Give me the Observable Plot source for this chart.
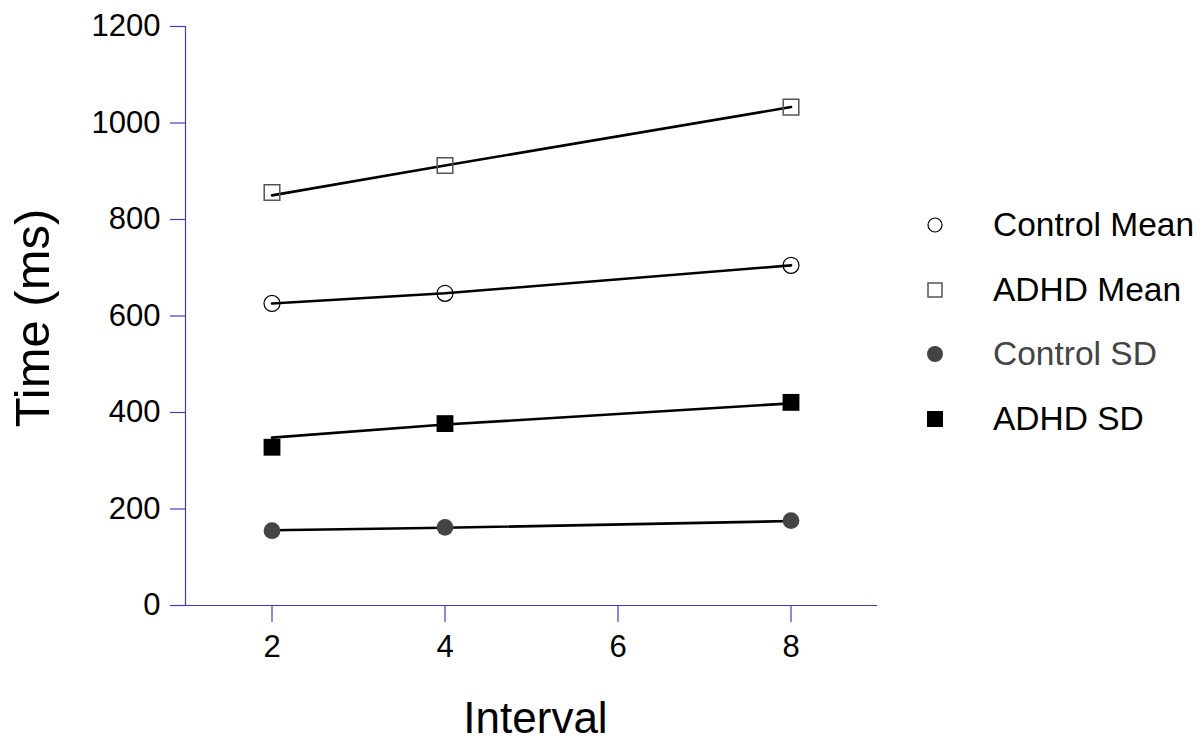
<!DOCTYPE html>
<html>
<head>
<meta charset="utf-8">
<script src="https://cdn.jsdelivr.net/npm/d3@7"></script>
<script src="https://cdn.jsdelivr.net/npm/@observablehq/plot@0.6"></script>
<style>
  body { margin: 0; background: white; font-family: "Liberation Sans", Arial, Helvetica, sans-serif; }
  #wrap { position: relative; width: 1200px; height: 740px; }
  #legend { position: absolute; left: 905px; top: 193px; }
  .row { display: flex; align-items: center; height: 64.5px; }
  .mk { width: 60px; height: 40px; display: flex; align-items: center; justify-content: center; }
  .lab { margin-left: 28px; font-size: 33.5px; color: #000; white-space: nowrap; }
</style>
</head>
<body>
<div id="wrap"><div id="chart"></div><div id="legend"></div></div>
<script>
const intervals = [2, 4, 8];
const seriesNames = ["Control Mean", "ADHD Mean", "Control SD", "ADHD SD"];
const controlMean = [626, 647, 705];
const adhdMean = [856, 912, 1033];
const controlSD = [155, 162, 176];
const adhdSD = [328, 377, 421];
// fitted trend lines as drawn in the figure
const controlMeanFit = [626, 647, 705];
const adhdMeanFit = [850, 912, 1033];
const controlSDFit = [156, 161, 175];
const adhdSDFit = [348, 375, 419];
const xTicks = [2, 4, 6, 8];
const yTicks = [0, 200, 400, 600, 800, 1000, 1200];

const blue = "#3c3cc8";
const styles = {
  "Control Mean": {symbol: "circle", fill: "none", stroke: "#000", r: 8, strokeWidth: 1.2, text: "#000"},
  "ADHD Mean": {symbol: "square", fill: "none", stroke: "#555", r: 8.8, strokeWidth: 1.5, text: "#000"},
  "Control SD": {symbol: "circle", fill: "#444", stroke: "none", r: 8.4, strokeWidth: 0, text: "#444"},
  "ADHD SD": {symbol: "square", fill: "#000", stroke: "none", r: 9.5, strokeWidth: 0, text: "#000"}
};
const valuesBySeries = [controlMean, adhdMean, controlSD, adhdSD];
const fitsBySeries = [controlMeanFit, adhdMeanFit, controlSDFit, adhdSDFit];

const rows = seriesNames.flatMap((s, i) => intervals.map((x, j) => ({
  series: s, interval: x, value: valuesBySeries[i][j], fit: fitsBySeries[i][j]
})));

const dotMarks = seriesNames.map(s => {
  const st = styles[s];
  return Plot.dot(rows.filter(d => d.series === s), {
    x: "interval", y: "value", symbol: () => st.symbol, r: st.r,
    fill: st.fill, stroke: st.stroke, strokeWidth: st.strokeWidth
  });
});

const chart = Plot.plot({
  width: 1200,
  height: 740,
  marginLeft: 185,
  marginRight: 323,
  marginTop: 26,
  marginBottom: 135,
  x: {domain: [1, 9]},
  y: {domain: [0, 1200]},
  symbol: {type: "identity"},
  style: {fontFamily: "'Liberation Sans', Arial, Helvetica, sans-serif", background: "white", color: "black"},
  marks: [
    Plot.ruleX([1], {stroke: blue, strokeWidth: 1.2}),
    Plot.ruleY([0], {stroke: blue, strokeWidth: 1.2}),
    Plot.axisY(yTicks, {tickSize: 15, tickPadding: 10, stroke: blue, fill: "black", fontSize: 31, label: null, strokeWidth: 1.2, tickFormat: d => String(d)}),
    Plot.axisX(xTicks, {tickSize: 17, tickPadding: 12, stroke: blue, fill: "black", fontSize: 31, label: null, strokeWidth: 1.2, tickFormat: d => String(d)}),
    Plot.text(["Time (ms)"], {text: d => d, frameAnchor: "left", textAnchor: "middle", rotate: -90, dx: -152, dy: 2, fontSize: 49, fill: "black"}),
    Plot.text(["Interval"], {text: d => d, frameAnchor: "bottom", textAnchor: "middle", dy: 127, dx: 4, fontSize: 44, fill: "black"}),
    Plot.line(rows, {x: "interval", y: "fit", z: "series", stroke: "black", strokeWidth: 2.6}),
    ...dotMarks
  ]
});
document.getElementById("chart").appendChild(chart);

// legend
const legend = document.getElementById("legend");
const legendSizes = {"Control Mean": 7, "ADHD Mean": 7, "Control SD": 8, "ADHD SD": 8};
seriesNames.forEach(s => {
  const st = styles[s];
  const row = document.createElement("div");
  row.className = "row";
  const mk = document.createElement("div");
  mk.className = "mk";
  const r = legendSizes[s];
  let shape;
  if (st.symbol === "circle") {
    shape = `<circle cx="20" cy="20" r="${r}" fill="${st.fill}" stroke="${st.stroke}" stroke-width="${st.strokeWidth || 0}"/>`;
  } else {
    shape = `<rect x="${20 - r}" y="${20 - r}" width="${2 * r}" height="${2 * r}" fill="${st.fill}" stroke="${st.stroke}" stroke-width="${st.strokeWidth || 0}"/>`;
  }
  mk.innerHTML = `<svg width="40" height="40">${shape}</svg>`;
  const lab = document.createElement("div");
  lab.className = "lab";
  lab.style.color = st.text;
  lab.textContent = s;
  row.appendChild(mk);
  row.appendChild(lab);
  legend.appendChild(row);
});
</script>
</body>
</html>
